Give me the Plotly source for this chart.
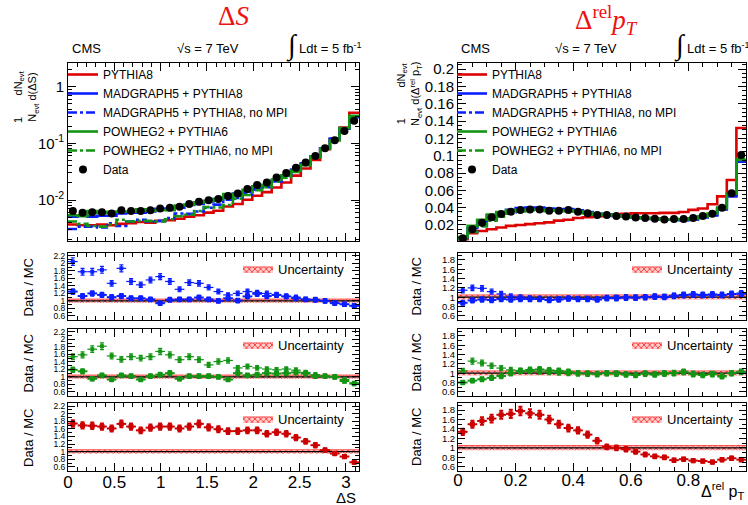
import numpy as np
import plotly.graph_objects as go

# ---------------- Delta S : 30 bins on [0, pi] ----------------
ds_nbins = 30
ds_xmax = np.pi
ds_data = [0.0064, 0.0060, 0.0061, 0.0061, 0.0058, 0.0066, 0.0064, 0.0064, 0.0066, 0.0071,
           0.0073, 0.0076, 0.0085, 0.0093, 0.0099, 0.0104, 0.0118, 0.0131, 0.0157, 0.0185,
           0.0203, 0.0250, 0.0300, 0.0370, 0.0460, 0.0600, 0.0820, 0.1130, 0.1650, 0.2500]
ds_pythia8 = [0.0037, 0.0036, 0.0036, 0.0037, 0.0036, 0.0038, 0.0039, 0.0041, 0.0040, 0.0043,
              0.0044, 0.0047, 0.0051, 0.0054, 0.0060, 0.0065, 0.0077, 0.0085, 0.0101, 0.0119,
              0.0138, 0.0166, 0.0204, 0.0270, 0.0360, 0.0510, 0.0790, 0.1190, 0.1900, 0.3450]
ds_mg5 = [0.0051, 0.0053, 0.0051, 0.0053, 0.0053, 0.0058, 0.0060, 0.0060, 0.0063, 0.0070,
          0.0071, 0.0073, 0.0082, 0.0085, 0.0095, 0.0104, 0.0110, 0.0130, 0.0140, 0.0155,
          0.0180, 0.0216, 0.0268, 0.0346, 0.0442, 0.0583, 0.0820, 0.1200, 0.1810, 0.2870]
ds_mg5_nompi = [0.0031, 0.0034, 0.0034, 0.0033, 0.0039, 0.0035, 0.0042, 0.0045, 0.0042, 0.0043,
                0.0048, 0.0058, 0.0057, 0.0063, 0.0073, 0.0083, 0.0102, 0.0109, 0.0126, 0.0152,
                0.0169, 0.0216, 0.0268, 0.0336, 0.0442, 0.0583, 0.0820, 0.1200, 0.1810, 0.2870]
ds_powheg = [0.0054, 0.0052, 0.0064, 0.0059, 0.0062, 0.0063, 0.0063, 0.0069, 0.0065, 0.0067,
             0.0066, 0.0080, 0.0083, 0.0091, 0.0097, 0.0104, 0.0127, 0.0119, 0.0151, 0.0175,
             0.0185, 0.0229, 0.0273, 0.0330, 0.0422, 0.0588, 0.0804, 0.1130, 0.1850, 0.3050]
ds_powheg_nompi = [0.0042, 0.0038, 0.0035, 0.0034, 0.0037, 0.0045, 0.0042, 0.0043, 0.0043, 0.0042,
                   0.0046, 0.0052, 0.0055, 0.0064, 0.0075, 0.0074, 0.0082, 0.0106, 0.0123, 0.0149,
                   0.0168, 0.0210, 0.0248, 0.0314, 0.0411, 0.0566, 0.0804, 0.1130, 0.1770, 0.2980]
ds_ratio_mg5 = [1.25, 1.13, 1.20, 1.16, 1.10, 1.13, 1.07, 1.07, 1.04, 0.94,
                1.03, 1.04, 1.04, 1.09, 1.04, 1.00, 1.07, 1.01, 1.12, 1.19,
                1.13, 1.16, 1.12, 1.07, 1.04, 1.03, 1.00, 0.94, 0.91, 0.87]
ds_ratio_mg5_nompi = [2.05, 1.78, 1.78, 1.83, 1.47, 1.87, 1.52, 1.43, 1.56, 1.65,
                      1.52, 1.31, 1.49, 1.47, 1.36, 1.25, 1.16, 1.20, 1.25, 1.22,
                      1.20, 1.16, 1.12, 1.10, 1.04, 1.03, 1.00, 0.94, 0.91, 0.87]
ds_ratio_powheg = [1.19, 1.15, 0.95, 1.04, 0.93, 1.04, 1.02, 0.93, 1.02, 1.06,
                   1.10, 0.95, 1.02, 1.02, 1.02, 1.00, 0.93, 1.10, 1.04, 1.06,
                   1.10, 1.09, 1.10, 1.12, 1.09, 1.02, 1.02, 1.00, 0.89, 0.82]
ds_ratio_powheg_nompi = [1.54, 1.59, 1.74, 1.82, 1.56, 1.47, 1.54, 1.50, 1.54, 1.68,
                         1.59, 1.46, 1.54, 1.46, 1.32, 1.41, 1.44, 1.24, 1.28, 1.24,
                         1.21, 1.19, 1.21, 1.18, 1.12, 1.06, 1.02, 1.00, 0.93, 0.84]
ds_ratio_pythia8 = [1.74, 1.69, 1.68, 1.66, 1.61, 1.73, 1.66, 1.56, 1.63, 1.66,
                    1.66, 1.61, 1.66, 1.73, 1.64, 1.59, 1.54, 1.54, 1.56, 1.56,
                    1.47, 1.51, 1.47, 1.37, 1.27, 1.17, 1.04, 0.95, 0.87, 0.72]

# ---------------- Delta^rel pT : 30 bins on [0, 1] ----------------
pt_nbins = 30
pt_xmax = 1.0
pt_data = [0.0046, 0.0150, 0.0227, 0.0288, 0.0327, 0.0354, 0.0373, 0.0380, 0.0380, 0.0365,
           0.0365, 0.0373, 0.0354, 0.0335, 0.0315, 0.0315, 0.0304, 0.0298, 0.0287, 0.0280,
           0.0273, 0.0262, 0.0269, 0.0269, 0.0280, 0.0304, 0.0330, 0.0398, 0.0567, 0.1007]
pt_pythia8 = [0.0035, 0.0104, 0.0130, 0.0150, 0.0170, 0.0190, 0.0200, 0.0210, 0.0220, 0.0230,
              0.0250, 0.0260, 0.0280, 0.0290, 0.0300, 0.0310, 0.0320, 0.0330, 0.0335, 0.0335,
              0.0335, 0.0340, 0.0340, 0.0350, 0.0374, 0.0390, 0.0440, 0.0530, 0.0720, 0.1320]
pt_mg5 = [0.0052, 0.0165, 0.0240, 0.0310, 0.0345, 0.0375, 0.0395, 0.0400, 0.0400, 0.0390,
          0.0385, 0.0385, 0.0370, 0.0350, 0.0330, 0.0320, 0.0310, 0.0300, 0.0290, 0.0280,
          0.0270, 0.0260, 0.0260, 0.0255, 0.0265, 0.0290, 0.0310, 0.0380, 0.0530, 0.0930]
pt_mg5_nompi = [0.0040, 0.0125, 0.0190, 0.0260, 0.0310, 0.0345, 0.0370, 0.0385, 0.0390, 0.0380,
                0.0375, 0.0380, 0.0365, 0.0345, 0.0325, 0.0320, 0.0305, 0.0300, 0.0290, 0.0280,
                0.0270, 0.0262, 0.0262, 0.0258, 0.0268, 0.0290, 0.0315, 0.0380, 0.0540, 0.0940]
pt_powheg = [0.0060, 0.0190, 0.0260, 0.0320, 0.0350, 0.0370, 0.0375, 0.0375, 0.0375, 0.0370,
             0.0365, 0.0365, 0.0355, 0.0340, 0.0325, 0.0315, 0.0310, 0.0300, 0.0290, 0.0280,
             0.0275, 0.0265, 0.0265, 0.0265, 0.0275, 0.0300, 0.0330, 0.0400, 0.0560, 0.0950]
pt_powheg_nompi = [0.0044, 0.0120, 0.0185, 0.0250, 0.0295, 0.0330, 0.0355, 0.0370, 0.0370, 0.0360,
                   0.0360, 0.0370, 0.0355, 0.0335, 0.0318, 0.0318, 0.0305, 0.0298, 0.0290, 0.0280,
                   0.0272, 0.0263, 0.0268, 0.0268, 0.0278, 0.0300, 0.0328, 0.0395, 0.0560, 0.0960]
pt_ratio_mg5 = [0.88, 0.93, 0.95, 0.94, 0.96, 0.95, 0.96, 0.96, 0.96, 0.94,
                0.95, 0.97, 0.96, 0.96, 0.95, 0.98, 0.98, 0.99, 0.99, 1.00,
                1.01, 1.01, 1.03, 1.05, 1.06, 1.05, 1.06, 1.05, 1.07, 1.08]
pt_ratio_mg5_nompi = [1.15, 1.20, 1.19, 1.12, 1.07, 1.02, 1.00, 0.98, 0.97, 0.95,
                      0.96, 0.97, 0.96, 0.97, 0.96, 0.98, 0.99, 1.00, 0.99, 1.00,
                      1.02, 1.00, 1.03, 1.04, 1.05, 1.04, 1.05, 1.04, 1.06, 1.07]
pt_ratio_powheg = [0.80, 0.84, 0.87, 0.90, 0.94, 1.00, 1.05, 1.07, 1.08, 1.06,
                   1.05, 1.03, 1.00, 0.99, 0.98, 1.00, 0.99, 0.97, 0.96, 0.99,
                   0.97, 0.99, 1.00, 1.03, 0.98, 0.96, 0.98, 0.93, 1.00, 1.03]
pt_ratio_powheg_nompi = [1.05, 1.26, 1.22, 1.16, 1.11, 1.07, 1.05, 1.04, 1.03, 1.02,
                         1.01, 1.00, 0.99, 0.99, 0.98, 1.00, 0.99, 0.98, 0.97, 0.99,
                         0.98, 1.00, 1.01, 1.02, 0.99, 0.97, 0.98, 0.95, 1.00, 1.03]
pt_ratio_pythia8 = [1.34, 1.50, 1.57, 1.62, 1.70, 1.72, 1.78, 1.73, 1.70, 1.60,
                    1.50, 1.42, 1.37, 1.28, 1.15, 1.02, 1.00, 0.97, 0.92, 0.86,
                    0.82, 0.80, 0.74, 0.76, 0.73, 0.72, 0.70, 0.75, 0.78, 0.75]

uncertainty_halfwidth = 0.05
ratio_err_percent = 5

names = ["PYTHIA8", "MADGRAPH5 + PYTHIA8", "MADGRAPH5 + PYTHIA8, no MPI",
         "POWHEG2 + PYTHIA6", "POWHEG2 + PYTHIA6, no MPI"]

RED, BLUE, GREEN = "#dd0000", "#0a1eff", "#149414"
FONT = "Liberation Sans, Arial, sans-serif"
W, H = 748, 505

fig = go.Figure()


def px_x(p):
    return p / W


def px_y(p):
    return 1 - p / H


def add_steps(edges, vals, name, color, dash, xa, ya, leg):
    v = np.asarray(vals, float)
    fig.add_trace(go.Scatter(x=edges, y=np.append(v, v[-1]), mode="lines", name=name,
                             line=dict(color=color, width=2.6, dash=dash, shape="hv"),
                             xaxis=xa, yaxis=ya, legend=leg))


def add_ratio_panel(edges, series, xa, ya, leg):
    centers = 0.5 * (edges[:-1] + edges[1:])
    half = 0.5 * (edges[1] - edges[0])
    n = len(centers)
    lo = np.full(n + 1, 1 - uncertainty_halfwidth)
    hi = np.full(n + 1, 1 + uncertainty_halfwidth)
    one = np.ones(n + 1)
    fig.add_trace(go.Scatter(x=edges, y=lo, mode="lines", line=dict(width=0, shape="hv", color=RED),
                             showlegend=False, hoverinfo="skip", xaxis=xa, yaxis=ya))
    fig.add_trace(go.Scatter(x=edges, y=hi, mode="lines", fill="tonexty", name="Uncertainty",
                             fillcolor="rgba(255,120,120,0.55)",
                             fillpattern=dict(shape="x", fgcolor="#ff2020", size=4, solidity=0.35,
                                              bgcolor="rgba(255,170,170,0.6)"),
                             line=dict(width=0.8, shape="hv", color="#ff3030"),
                             xaxis=xa, yaxis=ya, legend=leg))
    fig.add_trace(go.Scatter(x=edges, y=one, mode="lines", line=dict(width=1.2, color="black", shape="hv"),
                             showlegend=False, hoverinfo="skip", xaxis=xa, yaxis=ya))
    for vals, color, thick, msize in series:
        fig.add_trace(go.Scatter(
            x=centers, y=vals, mode="markers", showlegend=False,
            marker=dict(symbol="square", size=msize, color=color),
            error_x=dict(type="constant", value=half, thickness=thick, width=0, color=color),
            error_y=dict(type="percent", value=ratio_err_percent, thickness=thick, width=2, color=color),
            xaxis=xa, yaxis=ya))


# ---- left column ----
ds_edges = np.linspace(0, ds_xmax, ds_nbins + 1)
ds_centers = 0.5 * (ds_edges[:-1] + ds_edges[1:])
ds_mc = [ds_pythia8, ds_mg5, ds_mg5_nompi, ds_powheg, ds_powheg_nompi]
styles = [(RED, "solid"), (BLUE, "solid"), (BLUE, "dashdot"), (GREEN, "solid"), (GREEN, "dashdot")]
for nm, vals, (c, d) in zip(names, ds_mc, styles):
    add_steps(ds_edges, vals, nm, c, d, "x", "y", "legend")
fig.add_trace(go.Scatter(x=ds_centers, y=ds_data, mode="markers", name="Data",
                         marker=dict(color="black", size=8), xaxis="x", yaxis="y", legend="legend"))

add_ratio_panel(ds_edges, [(ds_ratio_mg5_nompi, BLUE, 1.2, 4), (ds_ratio_mg5, BLUE, 2, 5)], "x2", "y2", "legend3")
add_ratio_panel(ds_edges, [(ds_ratio_powheg_nompi, GREEN, 1.2, 4), (ds_ratio_powheg, GREEN, 2, 5)], "x3", "y3", "legend4")
add_ratio_panel(ds_edges, [(ds_ratio_pythia8, "#cc0000", 2, 5)], "x4", "y4", "legend5")

# ---- right column ----
pt_edges = np.linspace(0, pt_xmax, pt_nbins + 1)
pt_centers = 0.5 * (pt_edges[:-1] + pt_edges[1:])
pt_mc = [pt_pythia8, pt_mg5, pt_mg5_nompi, pt_powheg, pt_powheg_nompi]
for nm, vals, (c, d) in zip(names, pt_mc, styles):
    add_steps(pt_edges, vals, nm, c, d, "x5", "y5", "legend2")
fig.add_trace(go.Scatter(x=pt_centers, y=pt_data, mode="markers", name="Data",
                         marker=dict(color="black", size=8), xaxis="x5", yaxis="y5", legend="legend2"))

add_ratio_panel(pt_edges, [(pt_ratio_mg5_nompi, BLUE, 1.2, 4), (pt_ratio_mg5, BLUE, 2, 5)], "x6", "y6", "legend6")
add_ratio_panel(pt_edges, [(pt_ratio_powheg_nompi, GREEN, 1.2, 4), (pt_ratio_powheg, GREEN, 2, 5)], "x7", "y7", "legend7")
add_ratio_panel(pt_edges, [(pt_ratio_pythia8, "#cc0000", 2, 5)], "x8", "y8", "legend8")

# ---- axes ----
xL = [px_x(68), px_x(359)]
xR = [px_x(458), px_x(746)]
rows = [[px_y(241), px_y(63)], [px_y(320), px_y(253)], [px_y(396), px_y(329)], [px_y(471), px_y(403)]]


def base_axis(**kw):
    d = dict(showline=True, linecolor="black", linewidth=1, mirror="allticks", ticks="inside",
             ticklen=8, tickwidth=1, tickcolor="black", showgrid=False, zeroline=False,
             automargin=False, tickfont=dict(family=FONT, size=15, color="black"))
    d.update(kw)
    return d


layout = dict(width=W, height=H, margin=dict(l=0, r=0, t=0, b=0),
              paper_bgcolor="white", plot_bgcolor="white", template="none",
              font=dict(family=FONT, color="black"))

minor_log = [k * 10.0 ** e for e in range(-3, 1) for k in range(2, 10)]
layout["xaxis"] = base_axis(domain=xL, anchor="y", range=[0, ds_xmax], dtick=0.5, showticklabels=False,
                            minor=dict(ticks="inside", ticklen=4, dtick=0.1, tickcolor="black"))
layout["yaxis"] = base_axis(domain=rows[0], anchor="x", type="log",
                            range=[np.log10(0.0019), np.log10(2.6)],
                            tickvals=[0.01, 0.1, 1], ticktext=["10<sup>-2</sup>", "10<sup>-1</sup>", "1"],
                            minor=dict(ticks="inside", ticklen=4, tickvals=minor_log, tickcolor="black"))
for i, (xa, ya) in enumerate([("xaxis2", "yaxis2"), ("xaxis3", "yaxis3"), ("xaxis4", "yaxis4")]):
    k = i + 2
    layout[xa] = base_axis(domain=xL, anchor=f"y{k}", range=[0, ds_xmax], dtick=0.5,
                           showticklabels=(k == 4), tickfont=dict(family=FONT, size=17),
                           ticklabelstandoff=-4,
                           minor=dict(ticks="inside", ticklen=4, dtick=0.1, tickcolor="black"))
    layout[ya] = base_axis(domain=rows[i + 1], anchor=f"x{k}", range=[0.49, 2.28], dtick=0.2, tick0=0,
                           ticklen=7, tickfont=dict(family=FONT, size=8.5),
                           minor=dict(ticks="inside", ticklen=4, dtick=0.1, tickcolor="black"))

layout["xaxis5"] = base_axis(domain=xR, anchor="y5", range=[0, pt_xmax], dtick=0.2, showticklabels=False,
                             minor=dict(ticks="inside", ticklen=4, dtick=0.05, tickcolor="black"))
layout["yaxis5"] = base_axis(domain=rows[0], anchor="x5", range=[0.0015, 0.207], dtick=0.02, tick0=0,
                             minor=dict(ticks="inside", ticklen=4, dtick=0.005, tickcolor="black"))
for i, (xa, ya) in enumerate([("xaxis6", "yaxis6"), ("xaxis7", "yaxis7"), ("xaxis8", "yaxis8")]):
    k = i + 6
    layout[xa] = base_axis(domain=xR, anchor=f"y{k}", range=[0, pt_xmax], dtick=0.2,
                           showticklabels=(k == 8), tickfont=dict(family=FONT, size=17),
                           ticklabelstandoff=-6,
                           minor=dict(ticks="inside", ticklen=4, dtick=0.05, tickcolor="black"))
    layout[ya] = base_axis(domain=rows[i + 1], anchor=f"x{k}", range=[0.51, 1.95], dtick=0.2, tick0=0,
                           ticklen=7, tickfont=dict(family=FONT, size=9.5),
                           minor=dict(ticks="inside", ticklen=4, dtick=0.1, tickcolor="black"))

# ---- legends ----
top_leg = dict(xanchor="left", yanchor="top", bgcolor="rgba(0,0,0,0)", borderwidth=0,
               font=dict(family=FONT, size=12), itemwidth=30, tracegroupgap=0)
layout["legend"] = dict(top_leg, x=px_x(63), y=px_y(60))
layout["legend2"] = dict(top_leg, x=px_x(452), y=px_y(60))
for leg, row, xr in [("legend3", 1, 350), ("legend4", 2, 350), ("legend5", 3, 350),
                     ("legend6", 1, 739), ("legend7", 2, 739), ("legend8", 3, 739)]:
    layout[leg] = dict(xanchor="right", yanchor="top", x=px_x(xr), y=rows[row][1] - 1 / H,
                       bgcolor="rgba(0,0,0,0)", borderwidth=0, itemwidth=30,
                       font=dict(family=FONT, size=13))

fig.update_layout(**layout)

# ---- text ----
ann = []
serif = "Liberation Serif, DejaVu Serif, serif"
ann.append(dict(text="Δ<i>S</i>", x=px_x(234), y=px_y(16), font=dict(family=serif, size=27, color="#ee1111")))
ann.append(dict(text="Δ<sup>rel</sup><i>p<sub>T</sub></i>", x=px_x(606), y=px_y(20),
                font=dict(family=serif, size=27, color="#ee1111")))
for x0, xs, xi in [(70, 208, 284), (459, 586, 672)]:
    ann.append(dict(text="CMS", x=px_x(x0), y=px_y(49), xanchor="left", font=dict(family=FONT, size=13)))
    ann.append(dict(text="√s = 7 TeV", x=px_x(xs), y=px_y(49), font=dict(family=FONT, size=13)))
    ann.append(dict(text="∫", x=px_x(xi), y=px_y(46), xanchor="left", font=dict(family=serif, size=28)))
    ann.append(dict(text="Ldt = 5 fb<sup>-1</sup>", x=px_x(xi + 13), y=px_y(48), xanchor="left",
                    font=dict(family=FONT, size=13)))
ann.append(dict(text="1       dN<sub>evt</sub><br>N<sub>evt</sub> d(ΔS)", x=px_x(27), y=px_y(97),
                textangle=-90, font=dict(family=FONT, size=11)))
ann.append(dict(text="1          dN<sub>evt</sub><br>N<sub>evt</sub> d(Δ<sup>rel</sup> p<sub>T</sub>)",
                x=px_x(410), y=px_y(94), textangle=-90, font=dict(family=FONT, size=11)))
for r in rows[1:]:
    yc = 0.5 * (r[0] + r[1])
    ann.append(dict(text="Data / MC", x=px_x(28), y=yc, textangle=-90, font=dict(family=FONT, size=13)))
    ann.append(dict(text="Data / MC", x=px_x(416), y=yc, textangle=-90, font=dict(family=FONT, size=13)))
ann.append(dict(text="ΔS", x=px_x(358), y=px_y(497), xanchor="right", font=dict(family=FONT, size=15)))
ann.append(dict(text="Δ<sup>rel</sup> p<sub>T</sub>", x=px_x(746), y=px_y(491), xanchor="right",
                font=dict(family=FONT, size=16)))
for a in ann:
    a.update(xref="paper", yref="paper", showarrow=False)
    a.setdefault("xanchor", "center")
    a.setdefault("yanchor", "middle")
    a.setdefault("font", {}).setdefault("color", "black")
fig.update_layout(annotations=ann)

fig.write_html("out.html", config={"displayModeBar": False},
               post_script="document.body.style.margin='0px';document.body.style.overflow='hidden';")
